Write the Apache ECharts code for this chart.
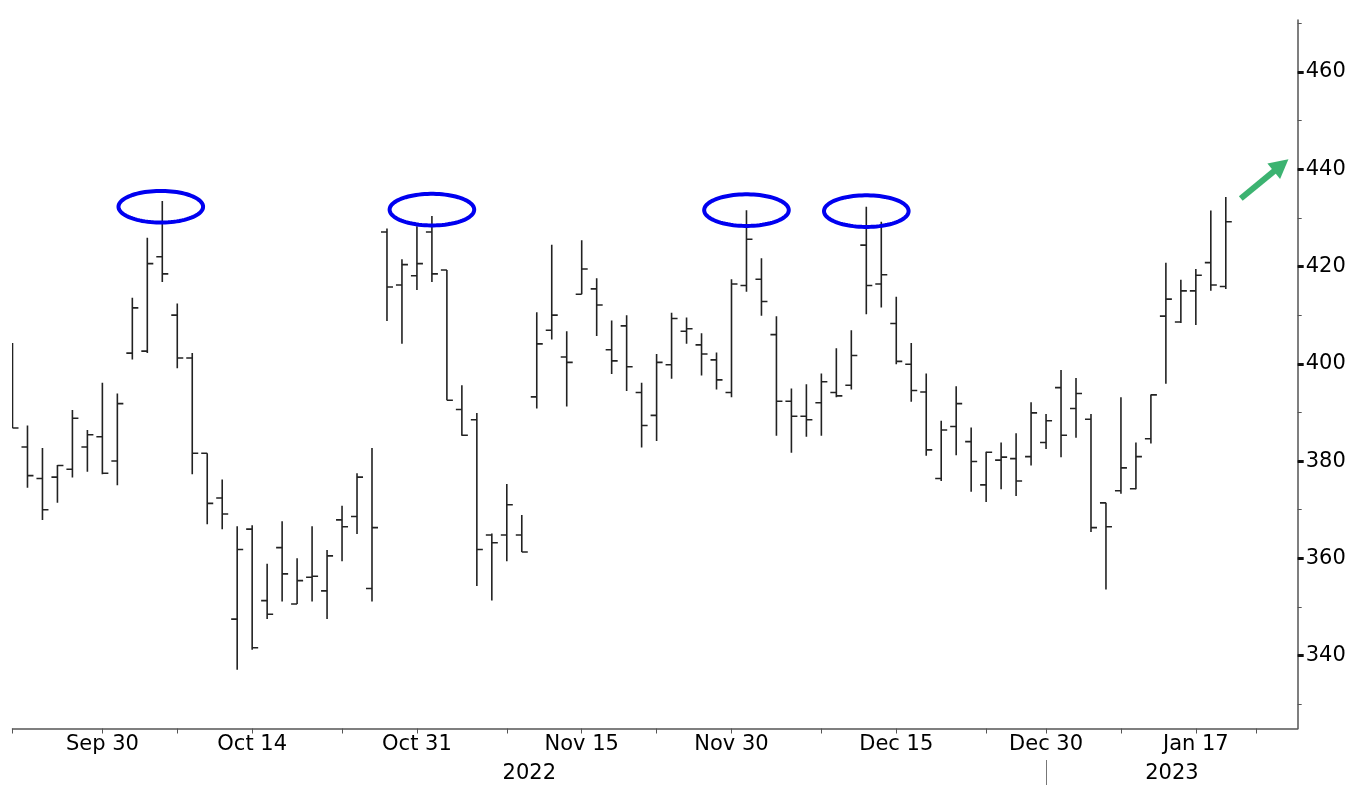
<!DOCTYPE html>
<html>
<head>
<meta charset="utf-8">
<script src="https://cdn.jsdelivr.net/npm/echarts@6/dist/echarts.min.js"></script>
<style>
  html, body { margin: 0; padding: 0; background: #fff; }
  #main { width: 1352px; height: 785px; }
</style>
</head>
<body>
<div id="main"></div>
<script>
// trading days, one slot per bar (the last few only extend the axis)
const days = [
  '2022-09-22', '2022-09-23', '2022-09-26', '2022-09-27', '2022-09-28', '2022-09-29', '2022-09-30',
  '2022-10-03', '2022-10-04', '2022-10-05', '2022-10-06', '2022-10-07', '2022-10-10', '2022-10-11',
  '2022-10-12', '2022-10-13', '2022-10-14', '2022-10-17', '2022-10-18', '2022-10-19', '2022-10-20',
  '2022-10-21', '2022-10-24', '2022-10-25', '2022-10-26', '2022-10-27', '2022-10-28', '2022-10-31',
  '2022-11-01', '2022-11-02', '2022-11-03', '2022-11-04', '2022-11-07', '2022-11-08', '2022-11-09',
  '2022-11-10', '2022-11-11', '2022-11-14', '2022-11-15', '2022-11-16', '2022-11-17', '2022-11-18',
  '2022-11-21', '2022-11-22', '2022-11-23', '2022-11-25', '2022-11-28', '2022-11-29', '2022-11-30',
  '2022-12-01', '2022-12-02', '2022-12-05', '2022-12-06', '2022-12-07', '2022-12-08', '2022-12-09',
  '2022-12-12', '2022-12-13', '2022-12-14', '2022-12-15', '2022-12-16', '2022-12-19', '2022-12-20',
  '2022-12-21', '2022-12-22', '2022-12-23', '2022-12-27', '2022-12-28', '2022-12-29', '2022-12-30',
  '2023-01-03', '2023-01-04', '2023-01-05', '2023-01-06', '2023-01-09', '2023-01-10', '2023-01-11',
  '2023-01-12', '2023-01-13', '2023-01-17', '2023-01-18', '2023-01-19', '2023-01-20', '2023-01-23',
  '2023-01-24', '2023-01-25'
];

const open = [
  404.0, 382.9, 376.4, 376.7, 378.3, 382.9, 385.0, 380.0, 402.2, 402.6,
  422.0, 410.0, 401.2, 381.6, 372.4, 347.5, 366.0, 351.3, 362.2, 350.6,
  356.1, 353.3, 367.9, 368.6, 353.8, 427.1, 416.2, 418.1, 427.1, 419.3,
  390.6, 388.5, 364.8, 364.8, 364.8, 393.2, 406.9, 401.4, 414.3, 415.4,
  402.9, 407.8, 394.1, 389.4, 399.8, 406.7, 403.9, 400.8, 394.1, 416.1,
  417.4, 406.0, 392.3, 389.2, 392.0, 394.1, 395.6, 424.4, 416.4, 408.3,
  399.9, 394.2, 376.4, 387.1, 384.0, 375.1, 380.2, 380.5, 380.9, 383.8,
  395.1, 390.8, 388.6, 371.4, 373.9, 374.3, 384.6, 409.8, 408.6, 415.0,
  420.8, 415.9
];
const high = [
  404.3, 387.3, 382.7, 379.2, 390.5, 386.4, 396.1, 393.9, 413.6, 425.9,
  433.5, 412.4, 402.2, 381.6, 376.2, 366.6, 366.8, 358.9, 367.6, 360.0,
  366.6, 361.7, 370.8, 377.5, 382.7, 427.8, 421.5, 428.3, 430.4, 419.3,
  395.6, 389.9, 365.1, 375.3, 368.9, 410.6, 424.5, 406.7, 425.4, 417.6,
  408.9, 410.0, 396.1, 402.0, 410.5, 409.5, 406.3, 402.3, 417.4, 431.6,
  421.7, 409.8, 394.9, 395.8, 398.0, 403.2, 406.9, 432.3, 429.2, 413.8,
  404.3, 398.0, 388.3, 395.4, 386.9, 381.9, 383.8, 385.7, 392.1, 389.7,
  398.7, 397.1, 389.7, 371.4, 393.1, 383.8, 393.7, 420.8, 417.3, 419.5,
  431.5, 434.3
];
const low = [
  386.8, 374.5, 367.9, 371.4, 376.6, 377.8, 377.3, 375.0, 400.9, 402.2,
  416.8, 399.1, 377.3, 367.0, 366.0, 337.1, 341.2, 347.5, 351.1, 350.6,
  351.1, 347.5, 359.4, 365.0, 351.1, 408.8, 404.1, 415.2, 416.8, 392.5,
  385.2, 354.3, 351.3, 359.4, 361.3, 390.8, 405.0, 391.2, 414.3, 405.7,
  397.9, 394.4, 382.8, 384.1, 396.9, 404.1, 397.6, 394.7, 393.1, 414.8,
  409.9, 385.2, 381.7, 385.0, 385.2, 393.1, 394.7, 410.2, 411.6, 399.9,
  392.2, 381.1, 375.9, 381.2, 373.7, 371.6, 374.2, 372.8, 379.1, 382.5,
  380.8, 384.8, 365.4, 353.6, 373.3, 374.2, 383.6, 395.9, 408.4, 408.0,
  415.0, 415.4
];
const close = [
  386.8, 377.0, 370.0, 379.1, 388.8, 385.4, 377.5, 391.8, 411.5, 420.6,
  418.5, 401.2, 381.6, 371.3, 369.1, 361.8, 341.6, 348.5, 356.8, 355.4,
  356.3, 360.5, 366.5, 376.7, 366.3, 415.8, 420.4, 420.6, 418.5, 392.5,
  385.3, 361.8, 363.2, 371.0, 361.3, 404.1, 410.0, 400.3, 419.5, 412.1,
  400.6, 399.4, 387.3, 400.3, 409.3, 407.2, 402.0, 396.7, 416.4, 425.6,
  412.8, 392.3, 389.2, 388.5, 396.3, 393.4, 401.7, 416.1, 418.3, 400.5,
  394.5, 382.3, 386.4, 391.8, 379.9, 381.8, 380.8, 375.9, 389.9, 388.3,
  385.3, 393.9, 366.3, 366.5, 378.6, 380.9, 393.6, 413.3, 415.0, 418.2,
  416.2, 429.2
];

// x axis ticks and labels (dates)
const tickDays = [
  '2022-09-22', '2022-09-30', '2022-10-07', '2022-10-14', '2022-10-24', '2022-10-31',
  '2022-11-08', '2022-11-15', '2022-11-22', '2022-11-30', '2022-12-08', '2022-12-15',
  '2022-12-23', '2022-12-30', '2023-01-09', '2023-01-17', '2023-01-23'
];
const labelDays = [
  '2022-09-30', '2022-10-14', '2022-10-31', '2022-11-15',
  '2022-11-30', '2022-12-15', '2022-12-30', '2023-01-17'
];
const yearBreakDay = '2022-12-30';
const years = ['2022', '2023'];
const monthNames = ['Jan', 'Feb', 'Mar', 'Apr', 'May', 'Jun', 'Jul', 'Aug', 'Sep', 'Oct', 'Nov', 'Dec'];

// y axis
const yTicks = [330, 340, 350, 360, 370, 380, 390, 400, 410, 420, 430, 440, 450, 460, 470];
const yLabels = [340, 360, 380, 400, 420, 440, 460];

// annotations: circled highs [day index, price], and the up arrow [from idx, from price, to idx, to price]
const circled = [[9.9, 432.3], [28, 431.7], [49, 431.6], [57, 431.4]];
const arrow = [[82.0, 434.0, 85.18, 442.06]];

const X_MAX = 85.8;
const FONT = "'DejaVu Sans', Verdana, sans-serif";

const chart = echarts.init(document.getElementById('main'));

const tickIdx = tickDays.map(d => days.indexOf(d));
const labelIdx = labelDays.map(d => days.indexOf(d));
const breakIdx = days.indexOf(yearBreakDay);
const yearMid = [breakIdx / 2, (breakIdx + X_MAX) / 2];

const fmtDay = v => {
  const d = days[Math.round(v)];
  if (!d) return '';
  const p = d.split('-');
  return monthNames[+p[1] - 1] + ' ' + (+p[2]);
};

const ohlc = open.map((o, i) => [i, o, high[i], low[i], close[i]]);

const option = {
  animation: false,
  backgroundColor: '#fff',
  grid: { left: 12.5, right: 54.3, top: 20, bottom: 56.5 },
  xAxis: [
    {
      type: 'value',
      min: 0,
      max: X_MAX,
      position: 'bottom',
      splitLine: { show: false },
      axisLine: { show: true, onZero: false, lineStyle: { color: '#555', width: 1.5 } },
      axisTick: { show: true, customValues: tickIdx, length: 5, lineStyle: { color: '#555', width: 1 } },
      axisLabel: {
        customValues: labelIdx,
        formatter: fmtDay,
        fontFamily: FONT,
        fontSize: 21,
        color: '#000',
        margin: 6
      }
    },
    {
      // year row
      type: 'value',
      min: 0,
      max: X_MAX,
      position: 'bottom',
      offset: 31.5,
      splitLine: { show: false },
      axisLine: { show: false, onZero: false },
      axisTick: { show: true, customValues: [breakIdx], length: 25, lineStyle: { color: '#777', width: 1 } },
      axisLabel: {
        customValues: yearMid,
        formatter: v => (v < breakIdx ? years[0] : years[1]),
        fontFamily: FONT,
        fontSize: 21,
        color: '#000',
        margin: 3
      }
    }
  ],
  yAxis: [
    {
      type: 'value',
      position: 'right',
      min: 325,
      max: 470.7,
      splitLine: { show: false },
      axisLine: { show: true, onZero: false, lineStyle: { color: '#555', width: 1.5 } },
      axisTick: { show: true, customValues: yTicks, length: 4, lineStyle: { color: '#555' } },
      axisLabel: { show: false }
    },
    {
      type: 'value',
      position: 'right',
      min: 325,
      max: 470.7,
      splitLine: { show: false },
      axisLine: { show: false, onZero: false },
      axisTick: { show: true, customValues: yLabels, length: 6, lineStyle: { color: '#111', width: 3 } },
      axisLabel: {
        customValues: yLabels,
        fontFamily: FONT,
        fontSize: 21,
        color: '#000',
        margin: 8
      }
    }
  ],
  series: [
    {
      name: 'ohlc',
      type: 'custom',
      clip: true,
      xAxisIndex: 0,
      yAxisIndex: 0,
      encode: { x: 0, y: [1, 2, 3, 4] },
      data: ohlc,
      renderItem: (params, api) => {
        const i = api.value(0);
        const pO = api.coord([i, api.value(1)]);
        const pH = api.coord([i, api.value(2)]);
        const pL = api.coord([i, api.value(3)]);
        const pC = api.coord([i, api.value(4)]);
        const st = { stroke: '#222', lineWidth: 1.6 };
        return {
          type: 'group',
          children: [
            { type: 'line', shape: { x1: pH[0], y1: pH[1], x2: pL[0], y2: pL[1] }, style: st },
            { type: 'line', shape: { x1: pO[0] - 6, y1: pO[1], x2: pO[0], y2: pO[1] }, style: st },
            { type: 'line', shape: { x1: pC[0], y1: pC[1], x2: pC[0] + 6, y2: pC[1] }, style: st }
          ]
        };
      }
    },
    {
      name: 'circles',
      type: 'custom',
      clip: false,
      xAxisIndex: 0,
      yAxisIndex: 0,
      data: circled,
      renderItem: (params, api) => {
        const c = api.coord([api.value(0), api.value(1)]);
        const rx = 42.3, ry = 15.8;
        const pts = [];
        for (let k = 0; k < 90; k++) {
          const a = (k / 90) * Math.PI * 2;
          pts.push([c[0] + rx * Math.cos(a), c[1] + ry * Math.sin(a)]);
        }
        return {
          type: 'polygon',
          shape: { points: pts },
          style: { fill: 'none', stroke: '#0000f0', lineWidth: 4 }
        };
      }
    },
    {
      name: 'arrow',
      type: 'custom',
      clip: false,
      xAxisIndex: 0,
      yAxisIndex: 0,
      data: arrow,
      renderItem: (params, api) => {
        const a = api.coord([api.value(0), api.value(1)]);
        const b = api.coord([api.value(2), api.value(3)]);
        const dx = b[0] - a[0], dy = b[1] - a[1];
        const len = Math.sqrt(dx * dx + dy * dy);
        const ux = dx / len, uy = dy / len;
        const nx = -uy, ny = ux;
        const head = 19, half = 10;
        const bx = b[0] - ux * head, by = b[1] - uy * head;
        return {
          type: 'group',
          children: [
            {
              type: 'line',
              shape: { x1: a[0], y1: a[1], x2: bx + ux * 2, y2: by + uy * 2 },
              style: { stroke: '#3cb371', lineWidth: 6 }
            },
            {
              type: 'polygon',
              shape: { points: [[b[0], b[1]], [bx + nx * half, by + ny * half], [bx - nx * half, by - ny * half]] },
              style: { fill: '#3cb371' }
            }
          ]
        };
      }
    }
  ]
};

chart.setOption(option);
</script>
</body>
</html>
